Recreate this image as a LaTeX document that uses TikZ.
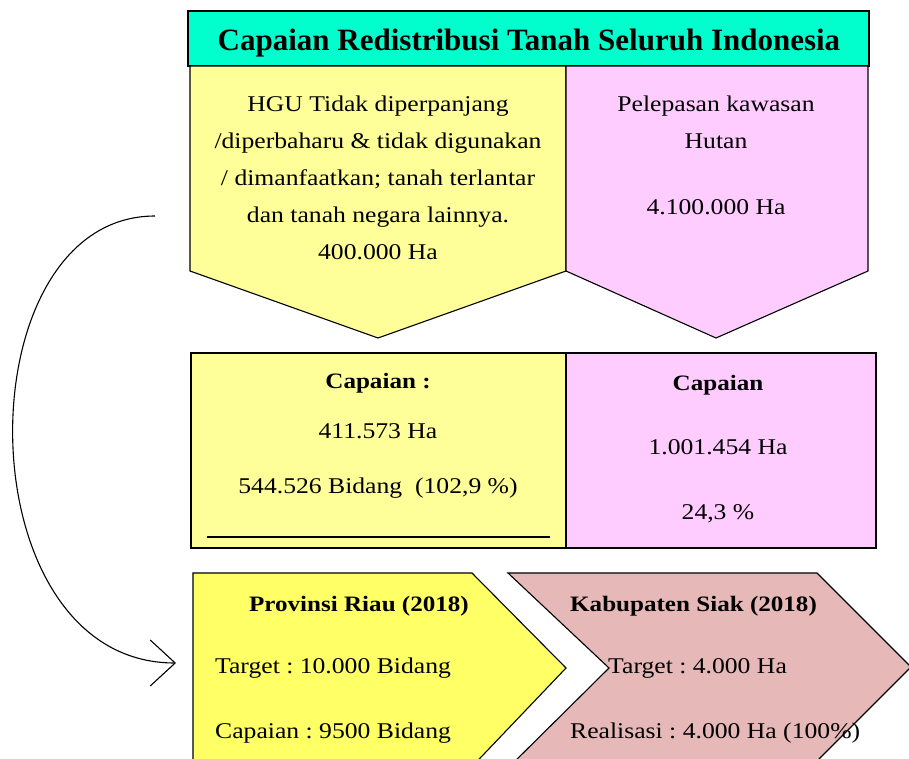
\documentclass[tikz,border=0pt]{standalone}
\usepackage{fontspec}
\setmainfont[FakeStretch=1.14]{Liberation Serif}
\newfontfamily\titlefont{Liberation Serif}
\frenchspacing
\usetikzlibrary{arrows.meta}
\definecolor{titlecyan}{RGB}{0,255,204}
\definecolor{paleyellow}{RGB}{255,255,153}
\definecolor{palepink}{RGB}{255,204,255}
\definecolor{brightyellow}{RGB}{255,255,102}
\definecolor{dustyrose}{RGB}{230,184,183}
\tikzset{
  shapeline/.style={draw=black, line width=1.1pt, line join=miter},
  bodytext/.style={inner sep=0pt, anchor=mid, font=\fontsize{22.5}{26}\selectfont},
  bodyleft/.style={bodytext, anchor=mid west},
  boldtext/.style={bodytext, font=\fontsize{22}{26}\selectfont\bfseries},
  boldleft/.style={boldtext, anchor=mid west},
  titletext/.style={inner sep=0pt, anchor=mid, font=\titlefont\fontsize{31}{34}\selectfont\bfseries},
}
\begin{document}
\begin{tikzpicture}[x=1pt,y=-1pt]
\useasboundingbox (0,0) rectangle (909,759);
\begin{scope}
\clip (0,0) rectangle (909,759);
% title bar
\draw[shapeline, fill=titlecyan] (188,11) rectangle (869,66);
\node[titletext] (title) at (529,48) {Capaian Redistribusi Tanah Seluruh Indonesia};
% top pentagons
\draw[shapeline, fill=paleyellow] (190,66) -- (566,66) -- (566,271) -- (378,338) -- (190,271) -- cycle;
\draw[shapeline, fill=palepink] (566,66) -- (868,66) -- (868,271) -- (716,338) -- (566,271) -- cycle;
\node[bodytext] (h1) at (378,109) {HGU Tidak diperpanjang};
\node[bodytext] (h2) at (378,146) {/diperbaharu \& tidak digunakan};
\node[bodytext] (h3) at (378,183) {/ dimanfaatkan; tanah terlantar};
\node[bodytext] (h4) at (378,220) {dan tanah negara lainnya.};
\node[bodytext] (h5) at (378,257) {400.000 Ha};
\node[bodytext] (p1) at (716,109) {Pelepasan kawasan};
\node[bodytext] (p2) at (716,146) {Hutan};
\node[bodytext] (p3) at (716,212) {4.100.000 Ha};
% middle boxes
\draw[shapeline, fill=paleyellow] (191,353) rectangle (566,548);
\draw[shapeline, fill=palepink] (566,353) rectangle (876,548);
\draw[line width=1.3pt] (207,537) -- (550,537);
\node[boldtext] (c1) at (378,386) {Capaian :};
\node[bodytext] (c2) at (378,436) {411.573 Ha};
\node[bodytext] (c3) at (378,491) {544.526 Bidang\ \ (102,9 \%)};
\node[boldtext] (d1) at (718,388) {Capaian};
\node[bodytext] (d2) at (718,452) {1.001.454 Ha};
\node[bodytext] (d3) at (718,517) {24,3 \%};
% bottom chevrons
\draw[shapeline, fill=brightyellow] (193,573) -- (472,573) -- (566,668) -- (464,775) -- (193,775) -- cycle;
\draw[shapeline, fill=dustyrose] (508,573) -- (817,573) -- (911,667) -- (803,775) -- (501,775) -- (609,668) -- cycle;
\node[boldtext] (r1) at (359,609) {Provinsi Riau (2018)};
\node[bodyleft] (r2) at (215,671) {Target : 10.000 Bidang};
\node[bodyleft] (r3) at (215,736) {Capaian : 9500 Bidang};
\node[boldleft] (s1) at (570,609) {Kabupaten Siak (2018)};
\node[bodyleft] (s2) at (608,671) {Target : 4.000 Ha};
\node[bodyleft] (s3) at (570,736) {Realisasi : 4.000 Ha (100\%)};
\end{scope}
% curved arrow
\coordinate (arrstart) at (155,216);
\coordinate (arrend) at (176,663);
\draw[line width=1.1pt, -{Straight Barb[length=25pt,width=46pt,line width=1.1pt]}]
  (arrstart) .. controls (-38,216) and (-38,663) .. (arrend);
\end{tikzpicture}
\end{document}
